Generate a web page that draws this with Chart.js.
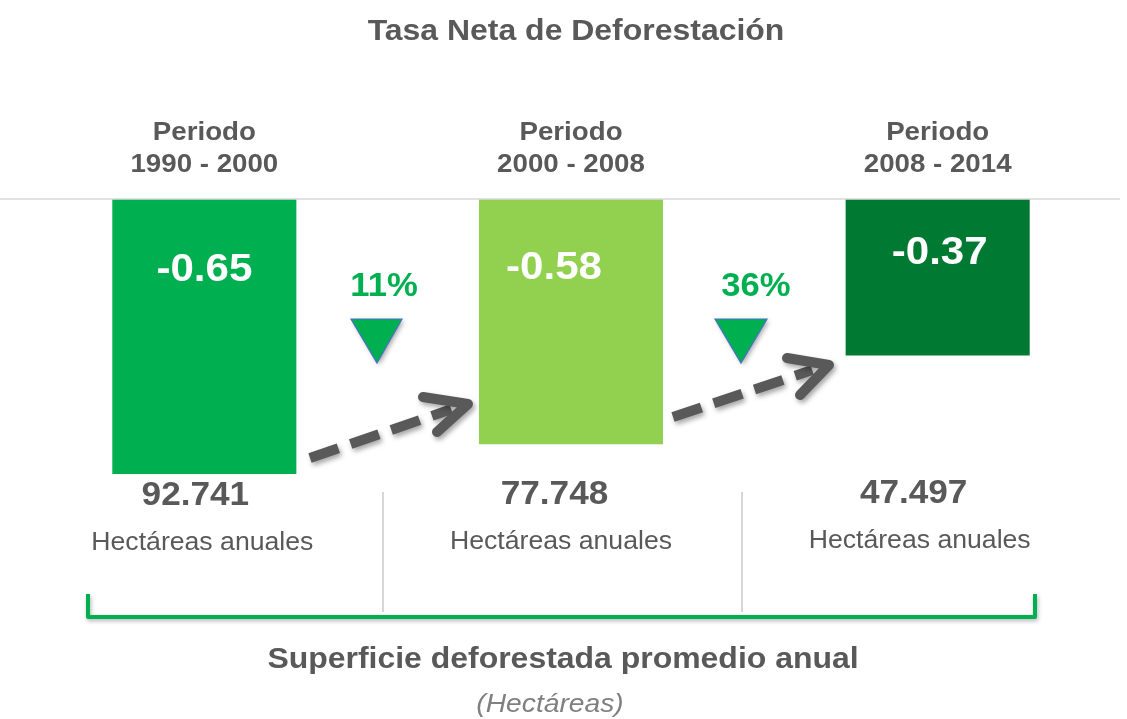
<!DOCTYPE html>
<html>
<head>
<meta charset="utf-8">
<script src="https://cdn.jsdelivr.net/npm/chart.js@4.4.1/dist/chart.umd.min.js"></script>
<style>
  html, body { margin: 0; padding: 0; background: #ffffff; }
  #wrap { width: 1127px; height: 719px; }
</style>
</head>
<body>
<div id="wrap"><canvas id="myChart" width="1127" height="719"></canvas></div>
<script>
// data
const periods = [['Periodo', '1990 - 2000'], ['Periodo', '2000 - 2008'], ['Periodo', '2008 - 2014']];
const rates = [-0.65, -0.58, -0.37];
const hectares = ['92.741', '77.748', '47.497'];
const changes = ['11%', '36%'];
const barColors = ['#00b050', '#92d050', '#007a33'];

const FONT = '"Liberation Sans", Arial, sans-serif';
const GREY = '#595959';
const SX = 1.065; // the original text is a touch wider than Arial

// small tweaks for where the value labels sit inside each bar
const labelDx = [0, -17, 2];
const labelDy = [71, 69, 54];

function text(ctx, str, x, y, font, color) {
    ctx.save();
    ctx.translate(x, y);
    ctx.scale(SX, 1);
    ctx.font = font;
    ctx.fillStyle = color;
    ctx.fillText(str, 0, 0);
    ctx.restore();
}

const decorations = {
    id: 'decorations',
    afterDatasetsDraw(chart) {
        const ctx = chart.ctx;
        const bars = chart.getDatasetMeta(0).data;
        const y0 = chart.scales.y.getPixelForValue(0);
        ctx.save();

        // baseline
        ctx.strokeStyle = '#d9d9d9';
        ctx.lineWidth = 1.5;
        ctx.beginPath();
        ctx.moveTo(0, y0);
        ctx.lineTo(1120, y0);
        ctx.stroke();

        ctx.textAlign = 'center';
        ctx.textBaseline = 'middle';

        // title
        text(ctx, 'Tasa Neta de Deforestación', 576, 32, 'bold 30px ' + FONT, GREY);

        bars.forEach(function (bar, i) {
            // period labels
            text(ctx, periods[i][0], bar.x, 133, 'bold 26px ' + FONT, GREY);
            text(ctx, periods[i][1], bar.x, 165, 'bold 26px ' + FONT, GREY);

            // value inside bar
            text(ctx, rates[i].toFixed(2), bar.x + labelDx[i], y0 + labelDy[i], 'bold 39.5px ' + FONT, '#ffffff');

            // hectares
            text(ctx, hectares[i], bar.x - 9 - 7.5 * i, 496 - i, 'bold 33px ' + FONT, GREY);
            text(ctx, 'Hectáreas anuales', bar.x - 2 - 8 * i, 543 - i, '25px ' + FONT, GREY);
        });

        // separators
        ctx.strokeStyle = '#c8c8c8';
        ctx.lineWidth = 1.5;
        [383, 742].forEach(function (x) {
            ctx.beginPath();
            ctx.moveTo(x, 492);
            ctx.lineTo(x, 612);
            ctx.stroke();
        });

        // change markers between bars
        const tri = [[377, 351, 402], [741, 715, 767]];
        changes.forEach(function (txt, i) {
            const cx = [384, 756][i];
            text(ctx, txt, cx, 287, 'bold 32.5px ' + FONT, '#00b050');

            ctx.save();
            ctx.shadowColor = 'rgba(0,0,0,0.35)';
            ctx.shadowBlur = 5;
            ctx.shadowOffsetX = 2;
            ctx.shadowOffsetY = 2;
            ctx.beginPath();
            ctx.moveTo(tri[i][1], 319);
            ctx.lineTo(tri[i][2], 319);
            ctx.lineTo(tri[i][0], 363);
            ctx.closePath();
            ctx.fillStyle = '#00b050';
            ctx.fill();
            ctx.restore();
            ctx.strokeStyle = '#4472c4';
            ctx.lineWidth = 1.2;
            ctx.stroke();
        });

        // dashed arrows
        const arrows = [
            {s: [310, 458], t: [472, 402], a: [[423, 397], [437, 432]]},
            {s: [673, 417], t: [833, 363], a: [[787, 358], [800, 395]]}
        ];
        ctx.save();
        ctx.shadowColor = 'rgba(0,0,0,0.35)';
        ctx.shadowBlur = 5;
        ctx.shadowOffsetX = 2;
        ctx.shadowOffsetY = 3;
        ctx.strokeStyle = GREY;
        ctx.lineWidth = 10;
        arrows.forEach(function (ar) {
            const dx = ar.t[0] - ar.s[0], dy = ar.t[1] - ar.s[1];
            const len = Math.sqrt(dx * dx + dy * dy);
            const ex = ar.s[0] + dx * (len - 22) / len, ey = ar.s[1] + dy * (len - 22) / len;
            ctx.lineCap = 'butt';
            ctx.setLineDash([30, 13]);
            ctx.beginPath();
            ctx.moveTo(ar.s[0], ar.s[1]);
            ctx.lineTo(ex, ey);
            ctx.stroke();
            ctx.setLineDash([]);
            ctx.lineCap = 'round';
            ctx.lineJoin = 'round';
            ctx.beginPath();
            ctx.moveTo(ar.a[0][0], ar.a[0][1]);
            ctx.lineTo(ar.t[0] - 4, ar.t[1] + 2);
            ctx.lineTo(ar.a[1][0], ar.a[1][1]);
            ctx.stroke();
        });
        ctx.restore();

        // bracket
        ctx.save();
        ctx.shadowColor = 'rgba(0,0,0,0.3)';
        ctx.shadowBlur = 4;
        ctx.shadowOffsetX = 1;
        ctx.shadowOffsetY = 2;
        ctx.strokeStyle = '#00b050';
        ctx.lineWidth = 4;
        ctx.lineJoin = 'round';
        ctx.beginPath();
        ctx.moveTo(88, 594);
        ctx.lineTo(88, 617);
        ctx.lineTo(1035, 617);
        ctx.lineTo(1035, 594);
        ctx.stroke();
        ctx.restore();

        // bottom caption
        text(ctx, 'Superficie deforestada promedio anual', 563, 660, 'bold 30px ' + FONT, GREY);
        text(ctx, '(Hectáreas)', 550, 705, 'italic 26.5px ' + FONT, '#808080');

        ctx.restore();
    }
};

const data = {
    labels: periods.map(function (p) { return p.join(' '); }),
    datasets: [{
        data: rates,
        backgroundColor: barColors,
        borderWidth: 0,
        barPercentage: 0.502,
        categoryPercentage: 1.0
    }]
};

const config = {
    type: 'bar',
    data: data,
    options: {
        responsive: false,
        animation: false,
        layout: { padding: { top: 199, bottom: 97, left: 21, right: 6 } },
        plugins: {
            legend: { display: false },
            tooltip: { enabled: false },
            title: { display: false }
        },
        scales: {
            x: { display: false },
            y: { display: false, min: -1, max: 0 }
        }
    },
    plugins: [decorations]
};

const myChart = new Chart(document.getElementById('myChart'), config);
</script>
</body>
</html>
